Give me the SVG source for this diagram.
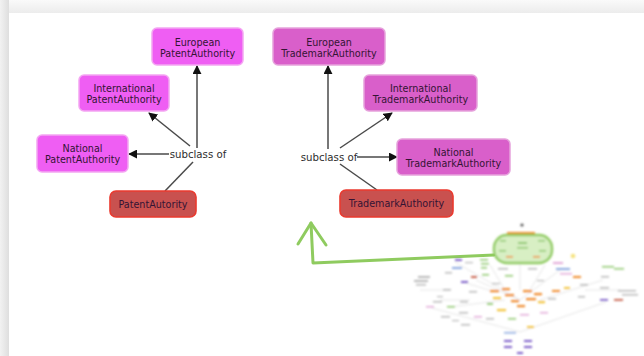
<svg xmlns="http://www.w3.org/2000/svg" width="644" height="356" viewBox="0 0 644 356">
  <defs>
    <linearGradient id="topBand" x1="0" y1="0" x2="0" y2="1">
      <stop offset="0" stop-color="#fafafa"/>
      <stop offset="1" stop-color="#ececec"/>
    </linearGradient>
    <linearGradient id="leftBand" x1="0" y1="0" x2="1" y2="0">
      <stop offset="0" stop-color="#f2f2f2"/>
      <stop offset="1" stop-color="#dedede"/>
    </linearGradient>
    <filter id="soft" x="-5%" y="-5%" width="110%" height="110%">
      <feGaussianBlur stdDeviation="0.8"/>
    </filter>
    <marker id="arrow" viewBox="0 0 10 10" refX="9" refY="5" markerWidth="9" markerHeight="9" markerUnits="userSpaceOnUse" orient="auto">
      <path d="M0,0 L10,5 L0,10 z" fill="#111"/>
    </marker>
    <style>
      .patent { fill: #ef5ef3; stroke: #f4a6f2; stroke-width: 1.5; }
      .trademark { fill: #d95fca; stroke: #e6a2dc; stroke-width: 1.5; }
      .root { fill: #c9514f; stroke: #ea3a2f; stroke-width: 1.6; }
      .label { font-family: "DejaVu Sans", Verdana, sans-serif; font-size: 9.6px; fill: #341434; text-anchor: middle; }
      .rel { font-family: "DejaVu Sans", Verdana, sans-serif; font-size: 10.2px; fill: #2e2e2e; text-anchor: middle; }
      .edge { stroke: #4a4a4a; stroke-width: 1.5; fill: none; }
      .pointer { stroke: #8fcb5f; stroke-width: 3; fill: none; stroke-linecap: round; stroke-linejoin: round; }
      .m-or { fill: #f08a2a; }
      .m-ye { fill: #f3c43a; }
      .m-gr { fill: #8cc86a; }
      .m-pu { fill: #7b5cc8; }
      .m-gy { fill: #b8b8b8; }
      .m-pk { fill: #e2a8d8; }
      .m-rd { fill: #c8604a; }
      .m-bl { fill: #8aa8e0; }
      .m-ln { stroke: #d4d4d4; stroke-width: 0.6; fill: none; }
    </style>
  </defs>

  <!-- window frame -->
  <rect x="0" y="0" width="644" height="356" fill="#f4f4f4"/>
  <rect x="0" y="0" width="644" height="13" fill="url(#topBand)"/>
  <rect x="0" y="0" width="9" height="356" fill="url(#leftBand)"/>
  <rect x="9" y="13" width="635" height="343" fill="#ffffff"/>

  <!-- connectors -->
  <g id="connectors">
    <line class="edge" x1="197" y1="148" x2="197" y2="66" marker-end="url(#arrow)"/>
    <line class="edge" x1="190" y1="146" x2="149" y2="113" marker-end="url(#arrow)"/>
    <line class="edge" x1="169" y1="154" x2="129" y2="154" marker-end="url(#arrow)"/>
    <line class="edge" x1="193" y1="162" x2="165" y2="191"/>

    <line class="edge" x1="328" y1="149" x2="328" y2="66" marker-end="url(#arrow)"/>
    <line class="edge" x1="340" y1="148" x2="392" y2="113" marker-end="url(#arrow)"/>
    <line class="edge" x1="357" y1="157" x2="397" y2="157" marker-end="url(#arrow)"/>
    <line class="edge" x1="340" y1="164" x2="377" y2="190"/>

    <text class="rel" x="198" y="158">subclass of</text>
    <text class="rel" x="329" y="161">subclass of</text>

    <path class="pointer" d="M494,255 L313,263 L311,223"/>
    <path class="pointer" d="M298,244 L311,223 L326,245"/>
  </g>

  <!-- patent authority tree -->
  <g id="european-patent-authority">
    <rect class="patent" x="152" y="28" width="91" height="37" rx="5"/>
    <text class="label" x="197.5" y="46">European</text>
    <text class="label" x="197.5" y="57">PatentAuthority</text>
  </g>
  <g id="international-patent-authority">
    <rect class="patent" x="79" y="75" width="90" height="36" rx="5"/>
    <text class="label" x="124" y="92">International</text>
    <text class="label" x="124" y="103">PatentAuthority</text>
  </g>
  <g id="national-patent-authority">
    <rect class="patent" x="37" y="135" width="91" height="37" rx="5"/>
    <text class="label" x="82.5" y="152">National</text>
    <text class="label" x="82.5" y="163">PatentAuthority</text>
  </g>
  <g id="patent-autority">
    <rect class="root" x="110" y="191" width="86" height="26" rx="6"/>
    <text class="label" x="153" y="207.5">PatentAutority</text>
  </g>

  <!-- trademark authority tree -->
  <g id="european-trademark-authority">
    <rect class="trademark" x="273" y="28" width="112" height="37" rx="5"/>
    <text class="label" x="329" y="46">European</text>
    <text class="label" x="329" y="57">TrademarkAuthority</text>
  </g>
  <g id="international-trademark-authority">
    <rect class="trademark" x="364" y="75" width="113" height="36" rx="5"/>
    <text class="label" x="420.5" y="92">International</text>
    <text class="label" x="420.5" y="103">TrademarkAuthority</text>
  </g>
  <g id="national-trademark-authority">
    <rect class="trademark" x="397" y="139" width="113" height="36" rx="5"/>
    <text class="label" x="453.5" y="156">National</text>
    <text class="label" x="453.5" y="167">TrademarkAuthority</text>
  </g>
  <g id="trademark-authority">
    <rect class="root" x="340" y="190" width="113" height="27" rx="6"/>
    <text class="label" x="396.5" y="207">TrademarkAuthority</text>
  </g>

  <!-- overview thumbnail of the full ontology -->
  <g id="overview" filter="url(#soft)">
    <path class="m-ln" d="M432,308 L520,332 L606,302 M455,262 L520,300 M476,280 L520,300 M560,270 L520,300 M603,280 L540,300 M450,307 L505,300 M463,282 L495,292 M520,263 L520,290 M440,300 L470,300 M490,265 L505,290 M545,265 L530,290 M420,290 L450,290 M585,290 L620,290"/>
    <circle cx="522" cy="225" r="1.6" fill="#555"/>
    <rect class="m-or" x="507" y="232" width="28" height="2.5"/>
    <rect x="494" y="235" width="58" height="28" rx="13" fill="#d8efc4" stroke="#8fcb5f" stroke-width="2.4"/>
    <rect class="m-gr" x="518" y="242" width="9" height="2"/>
    <rect class="m-gr" x="517" y="247" width="11" height="1.5"/>
    <rect class="m-gr" x="500" y="240" width="6" height="1.5"/>
    <rect class="m-gr" x="538" y="240" width="7" height="1.5"/>
    <rect class="m-gr" x="499" y="250" width="7" height="1.5"/>
    <rect class="m-gr" x="539" y="250" width="7" height="1.5"/>
    <rect class="m-or" x="506" y="256" width="7" height="1.5"/>
    <rect class="m-or" x="533" y="256" width="7" height="1.5"/>

    <rect class="m-pu" x="455" y="259" width="7" height="2"/>
    <rect class="m-bl" x="452" y="267" width="10" height="2"/>
    <rect class="m-gy" x="418" y="276" width="12" height="2"/>
    <rect class="m-gy" x="414" y="280" width="14" height="2"/>
    <rect class="m-gy" x="416" y="284" width="10" height="1.5"/>
    <rect class="m-gy" x="445" y="272" width="7" height="1.5"/>
    <rect class="m-rd" x="471" y="276" width="6" height="2"/>
    <rect class="m-pu" x="461" y="281" width="7" height="2"/>
    <rect class="m-gy" x="443" y="289" width="8" height="1.5"/>
    <rect class="m-gy" x="469" y="291" width="8" height="1.5"/>
    <rect class="m-gy" x="433" y="301" width="9" height="1.5"/>
    <rect class="m-pk" x="426" y="306" width="8" height="1.5"/>
    <rect class="m-gr" x="447" y="306" width="8" height="1.5"/>
    <rect class="m-gy" x="460" y="301" width="8" height="1.5"/>
    <rect class="m-gy" x="441" y="316" width="9" height="1.5"/>
    <rect class="m-gy" x="459" y="312" width="9" height="1.5"/>
    <rect class="m-pk" x="474" y="316" width="8" height="1.5"/>
    <rect class="m-gy" x="461" y="324" width="9" height="1.5"/>
    <rect class="m-gy" x="465" y="262" width="8" height="1.2"/>
    <rect class="m-gy" x="437" y="296" width="6" height="1.2"/>
    <rect class="m-gy" x="452" y="320" width="7" height="1.2"/>

    <rect class="m-gr" x="480" y="259" width="8" height="1.5"/>
    <rect class="m-gr" x="481" y="263" width="8" height="1.5"/>
    <rect class="m-gr" x="481" y="267" width="6" height="1.5"/>
    <rect class="m-gr" x="482" y="274" width="7" height="1.5"/>
    <rect class="m-gy" x="498" y="268" width="10" height="1.5"/>
    <rect class="m-gr" x="505" y="275" width="8" height="1.5"/>
    <rect class="m-gy" x="528" y="268" width="9" height="1.5"/>
    <rect class="m-gy" x="537" y="280" width="7" height="1.2"/>
    <rect class="m-gy" x="492" y="283" width="8" height="1.2"/>

    <rect class="m-or" x="490" y="290" width="9" height="2.2"/>
    <rect class="m-or" x="502" y="288" width="8" height="2.2"/>
    <rect class="m-or" x="505" y="294" width="9" height="2.2"/>
    <rect class="m-ye" x="493" y="297" width="8" height="2.2"/>
    <rect class="m-or" x="511" y="300" width="8" height="2.2"/>
    <rect class="m-ye" x="497" y="309" width="9" height="2.2"/>
    <rect class="m-or" x="523" y="290" width="9" height="2.2"/>
    <rect class="m-or" x="534" y="293" width="8" height="2.2"/>
    <rect class="m-or" x="526" y="298" width="10" height="2.2"/>
    <rect class="m-ye" x="538" y="301" width="7" height="2.2"/>
    <rect class="m-or" x="517" y="305" width="8" height="2.2"/>
    <rect class="m-gr" x="487" y="303" width="6" height="1.8"/>
    <rect class="m-ye" x="527" y="326" width="7" height="2"/>
    <rect class="m-pk" x="520" y="314" width="9" height="1.5"/>
    <rect class="m-gr" x="508" y="318" width="8" height="1.5"/>
    <rect class="m-gy" x="486" y="318" width="8" height="1.5"/>
    <rect class="m-pk" x="540" y="312" width="8" height="1.5"/>
    <rect class="m-gy" x="548" y="298" width="8" height="1.5"/>
    <rect class="m-or" x="552" y="290" width="8" height="2"/>

    <rect class="m-pk" x="553" y="262" width="10" height="2"/>
    <rect class="m-bl" x="556" y="268" width="14" height="2"/>
    <rect class="m-pk" x="560" y="273" width="12" height="1.5"/>
    <circle cx="573" cy="256" r="2.3" fill="#f5e27a"/>
    <rect class="m-or" x="573" y="276" width="8" height="2"/>
    <rect class="m-gy" x="580" y="284" width="8" height="1.5"/>
    <rect class="m-ye" x="564" y="287" width="6" height="2"/>
    <rect class="m-gy" x="578" y="296" width="7" height="1.5"/>
    <rect class="m-gr" x="602" y="266" width="12" height="1.5"/>
    <rect class="m-gr" x="614" y="268" width="10" height="1.5"/>
    <rect class="m-gy" x="601" y="276" width="8" height="1.5"/>
    <rect class="m-gy" x="600" y="287" width="9" height="1.5"/>
    <rect class="m-gy" x="618" y="290" width="18" height="1.5"/>
    <rect class="m-gy" x="622" y="294" width="16" height="1.5"/>
    <rect class="m-pu" x="600" y="299" width="8" height="1.8"/>
    <rect class="m-rd" x="614" y="299" width="9" height="1.8"/>

    <rect class="m-bl" x="504" y="332" width="12" height="1.5"/>
    <rect class="m-pu" x="504" y="340" width="8" height="2"/>
    <rect class="m-pu" x="524" y="340" width="8" height="2"/>
    <rect class="m-pu" x="504" y="346" width="8" height="2"/>
    <rect class="m-pu" x="524" y="346" width="8" height="2"/>
    <rect class="m-pu" x="517" y="352" width="6" height="2"/>
  </g>
</svg>
